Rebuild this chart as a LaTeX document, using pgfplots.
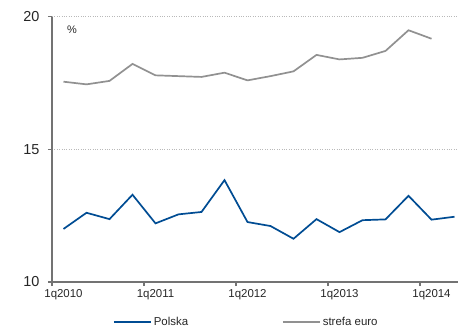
\documentclass[border=0pt]{standalone}
\usepackage{fontspec}
\setmainfont{Liberation Sans}
\usepackage{pgfplots}
\pgfplotsset{compat=1.18}
\definecolor{plblue}{RGB}{0,76,147}
\definecolor{eurogray}{RGB}{145,145,145}
\definecolor{axgray}{RGB}{115,115,115}
\begin{document}
\begin{tikzpicture}[x=1bp,y=1bp]
\begin{axis}[
  scale only axis, width=414bp, height=265.3bp,
  anchor=south west, at={(0,0)},
  xmin=-0.5, xmax=17.5, ymin=10, ymax=20,
  axis x line*=bottom, axis y line*=left,
  axis line style={axgray, line width=1.3bp},
  tick style={axgray, line width=1.1bp},
  tick align=outside, major tick length=4bp,
  xtick={-0.5,3.5,7.5,11.5,15.5},
  xticklabels={1q2010,1q2011,1q2012,1q2013,1q2014},
  xticklabel style={xshift=11.5bp, font=\fontsize{11.5}{12}\selectfont, text=black!85},
  ytick={10,15,20},
  yticklabel style={font=\fontsize{14.5}{15}\selectfont, text=black!85, xshift=-5bp},
  /pgf/number format/assume math mode=true,
  ymajorgrids, grid style={dotted, gray!55, line width=0.6bp},
  legend columns=2,
  legend style={draw=none, fill=none, inner sep=0pt, at={(0.147,-0.151)}, anchor=west,
    font=\fontsize{11.5}{12}\selectfont, text=black!85,
    /tikz/every even column/.append style={column sep=92bp}},
  legend image code/.code={\draw[#1] (0bp,0bp) -- (37bp,0bp);},
  clip=false,
]
\addplot[plblue, line width=1.7bp] coordinates {
(0,12.00) (1,12.61) (2,12.37) (3,13.29) (4,12.21) (5,12.55) (6,12.64) (7,13.84)
(8,12.26) (9,12.11) (10,11.63) (11,12.37) (12,11.88) (13,12.33) (14,12.36) (15,13.25)
(16,12.35) (17,12.46)};
\addlegendentry{Polska}
\addplot[eurogray, line width=1.7bp] coordinates {
(0,17.55) (1,17.45) (2,17.58) (3,18.22) (4,17.79) (5,17.76) (6,17.73) (7,17.89)
(8,17.60) (9,17.76) (10,17.94) (11,18.56) (12,18.39) (13,18.45) (14,18.71) (15,19.49)
(16,19.17)};
\addlegendentry{strefa euro}
\node[font=\fontsize{11}{12}\selectfont, text=black!85] at (rel axis cs:0.0483,0.95) {\%};
\end{axis}
\pgfresetboundingbox
\useasboundingbox (-52,-48) rectangle (406,282);
\end{tikzpicture}
\end{document}
